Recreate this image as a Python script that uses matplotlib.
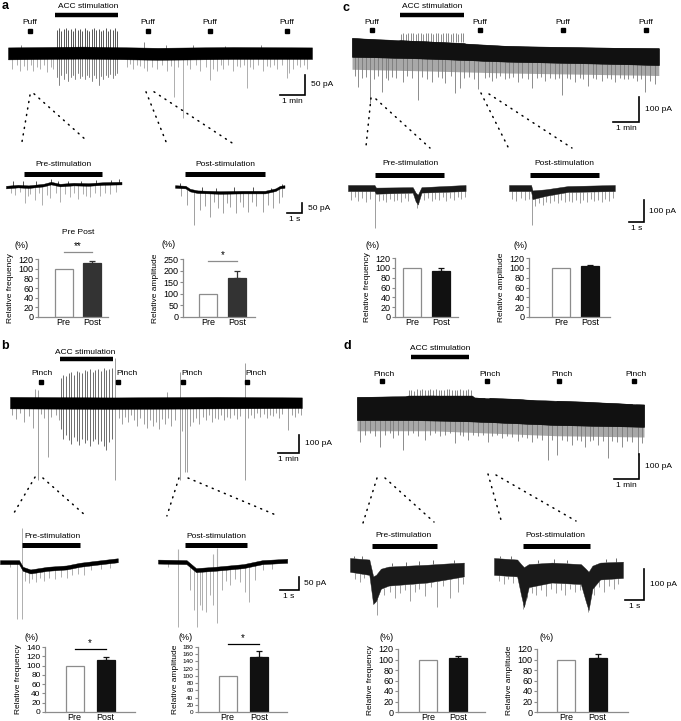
import matplotlib.pyplot as plt
import numpy as np

plt.rcParams['font.family'] = ['Liberation Sans', 'DejaVu Sans']

W, H = 681, 721

# ---------------- bar chart values (% of pre) ----------------
PRE_VALUE = 100
FREQ_POST = {'a': 111, 'b': 113, 'c': 93, 'd': 102}
FREQ_ERR = {'a': 4, 'b': 5, 'c': 6, 'd': 4}
AMP_POST = {'a': 170, 'b': 152, 'c': 104, 'd': 102}
AMP_ERR = {'a': 30, 'b': 16, 'c': 2, 'd': 9}

# ---------------- panel a: long trace (min, pA) ----------------
A_BAND_T = [0.0, 3.0, 6.0, 9.0, 12.16]
A_BAND_HI = [14, 16, 13, 15, 14]
A_BAND_LO = [-16, -14, -17, -15, -15]
A_DOWN = [(0.15, -40), (0.35, -30), (0.48, -45), (0.62, -32), (0.75, -42), (0.9, -30),
          (1.01, -45), (1.15, -35), (1.28, -40), (1.42, -30), (1.55, -48), (1.7, -35),
          (1.81, -40), (4.75, -35), (4.88, -28), (5.01, -40), (5.15, -30), (5.28, -32),
          (5.45, -38), (5.55, -45), (5.75, -35), (5.95, -40), (6.15, -30), (6.35, -45),
          (6.5, -32), (6.64, -110), (6.8, -35), (6.99, -162), (7.15, -30), (7.28, -40),
          (7.5, -30), (7.68, -45), (7.9, -35), (8.08, -67), (8.2, -40), (8.35, -45),
          (8.5, -30), (8.61, -40), (8.8, -30), (9.01, -45), (9.15, -32), (9.28, -35),
          (9.42, -30), (9.55, -88), (9.68, -35), (9.81, -40), (10.0, -30), (10.21, -45),
          (10.35, -32), (10.48, -35), (10.62, -30), (10.75, -40), (10.95, -30), (11.15, -62),
          (11.25, -50), (11.41, -40), (11.55, -30), (11.68, -35), (11.82, -30), (11.95, -40)]
A_UP = [(5.45, 28), (8.7, 18), (0.5, 20), (2.6, 22), (6.3, 20), (7.4, 19), (10.1, 20)]
A_STIM_T = [1.94, 2.03, 2.12, 2.22, 2.31, 2.40, 2.50, 2.59, 2.68, 2.78, 2.87, 2.96, 3.06, 3.15,
            3.24, 3.34, 3.43, 3.52, 3.62, 3.71, 3.80, 3.90, 3.99, 4.08, 4.18, 4.27, 4.36]
A_STIM_HI = [58, 62, 55, 60, 62, 57, 60, 55, 62, 58, 60, 56, 62, 58, 55, 60, 62, 57, 60, 55,
             58, 62, 56, 60, 58, 62, 55]
A_STIM_LO = [-60, -80, -55, -65, -50, -70, -60, -55, -65, -50, -62, -58, -65, -55, -60, -70,
             -55, -62, -80, -58, -65, -55, -60, -52, -62, -55, -50]
A_PUFF_T = [0.88, 5.6, 8.08, 11.16]
A_ACC = (1.88, 4.4)

# panel a: zoomed traces (s, pA)
A_PRE_BASE_T = [0, 0.8, 1.5, 2.5, 3.0, 3.6, 4.5, 5.5, 6.5, 7.7]
A_PRE_BASE = [-10, -5, -8, 0, 10, 0, 5, 3, 8, 10]
A_PRE_SPIKES = [(0.3, -40), (0.6, -50), (0.9, -35), (1.27, -90), (1.45, -55), (1.6, -45),
                (1.93, -75), (2.2, -40), (2.4, -100), (2.7, -50), (2.93, -65), (3.3, -40),
                (3.6, -85), (3.9, -45), (4.27, -60), (4.5, -40), (4.8, -70), (5.1, -45),
                (5.35, -55), (5.6, -60), (5.9, -40), (6.27, -55), (6.6, -40), (6.93, -45),
                (7.3, -35)]
A_PRE_UP = [(0.45, 20), (1.1, 18), (2.0, 22), (3.0, 28), (3.45, 22), (4.1, 20), (5.0, 22),
            (6.0, 24), (7.0, 26), (7.5, 28)]
A_POST_BASE_T = [0, 0.7, 1.0, 1.5, 3.0, 4.5, 6.0, 6.7, 7.0, 7.3]
A_POST_BASE = [8, 5, -10, -18, -22, -20, -20, -8, 5, 8]
A_POST_SPIKES = [(0.4, -40), (0.8, -85), (1.27, -185), (1.67, -110), (2.0, -90), (2.33, -145),
                 (2.6, -70), (2.87, -100), (3.2, -125), (3.45, -75), (3.67, -95), (4.07, -125),
                 (4.3, -70), (4.53, -95), (4.87, -120), (5.1, -70), (5.4, -90), (5.87, -120),
                 (6.2, -85), (6.53, -100), (6.93, -75), (7.15, -45)]
A_POST_UP = [(0.3, 25), (1.8, 5), (2.7, 2), (3.9, 4), (5.2, 3), (6.4, 2), (7.1, 22)]

# ---------------- panel b ----------------
B_BAND_T = [0.0, 5.0, 10.0, 14.1]
B_BAND_HI = [28, 25, 28, 25]
B_BAND_LO = [-35, -38, -35, -33]
B_DOWN = [(0.1, -70), (0.3, -95), (0.5, -60), (0.7, -110), (0.9, -75), (1.1, -140),
          (1.35, -426), (1.5, -65), (1.65, -90), (1.82, -300), (2.0, -80), (2.2, -70),
          (2.35, -100), (5.07, -426), (5.25, -90), (5.4, -120), (5.55, -80), (5.7, -110),
          (5.85, -70), (6.0, -100), (6.15, -130), (6.3, -90), (6.45, -120), (6.6, -140),
          (6.75, -100), (6.9, -130), (7.05, -110), (7.2, -150), (7.35, -95), (7.5, -120),
          (7.65, -85), (7.8, -130), (7.95, -100), (8.21, -426), (8.3, -160), (8.45, -382),
          (8.55, -382), (8.7, -130), (8.85, -110), (9.0, -90), (9.15, -120), (9.3, -80),
          (9.45, -100), (9.6, -70), (9.75, -110), (9.9, -85), (10.05, -95), (10.2, -70),
          (10.35, -100), (10.5, -80), (10.65, -90), (10.8, -70), (10.95, -95), (11.1, -75),
          (11.35, -426), (11.5, -90), (11.65, -70), (11.8, -85), (11.95, -60), (12.1, -80),
          (12.25, -65), (12.4, -90), (12.55, -70), (12.7, -75), (12.85, -60), (13.0, -85),
          (13.15, -65), (13.43, -153), (13.6, -70), (13.75, -80), (13.9, -60), (14.05, -70)]
B_UP = [(1.2, 70), (1.35, 65), (5.07, 240), (7.58, 55), (8.21, 164), (11.35, 213)]
B_STIM_T = [2.45, 2.58, 2.70, 2.83, 2.96, 3.09, 3.22, 3.35, 3.48, 3.61, 3.74, 3.87, 4.00,
            4.13, 4.26, 4.39, 4.52, 4.65, 4.78, 4.91]
B_STIM_HI = [130, 150, 140, 160, 165, 150, 170, 165, 160, 175, 170, 180, 165, 175, 180, 170,
             185, 175, 180, 185]
B_STIM_LO = [-150, -200, -180, -210, -230, -190, -215, -235, -200, -225, -210, -240, -215,
             -200, -230, -215, -240, -260, -220, -200]
B_PINCH_T = [1.5, 5.22, 8.36, 11.45]
B_ACC = (2.42, 4.98)

B_PRE_BASE_T = [0, 1.0, 1.2, 1.6, 2.5, 3.5, 4.2, 5.0, 6.2]
B_PRE_BASE = [0, 0, -25, -35, -25, -20, -10, -3, 7]
B_PRE_SPIKES = [(0.5, -20), (0.89, -214), (1.16, -214), (1.3, -70), (1.5, -80), (1.7, -65),
                (1.9, -75), (2.1, -60), (2.3, -70), (2.6, -60), (2.9, -65), (3.2, -55),
                (3.5, -60), (3.8, -50), (4.1, -45), (4.4, -50), (4.8, -30), (5.3, -25),
                (5.8, -22)]
B_PRE_UP = [(1.16, 127)]
B_POST_BASE_T = [0, 1.5, 2.0, 3.0, 4.5, 5.5, 6.8]
B_POST_BASE = [2, 0, -30, -25, -15, 0, 5]
B_POST_SPIKES = [(0.5, -20), (1.05, -244), (1.68, -105), (1.89, -180), (2.05, -244),
                 (2.21, -160), (2.32, -180), (2.53, -187), (2.74, -124), (2.89, -161),
                 (3.1, -229), (3.37, -105), (3.6, -70), (3.79, -86), (4.05, -65), (4.32, -75),
                 (4.58, -112), (4.79, -150), (5.1, -67), (5.5, -30), (6.0, -25)]
B_POST_UP = [(1.05, 49), (2.89, 30), (3.1, 52)]

# ---------------- panel c ----------------
C_TOP_T = [0, 1.77, 1.85, 4.31, 4.4, 4.85, 4.92, 5.0, 6.9, 11.8]
C_TOP = [0, -11, -9, -20, -24, -26, -45, -28, -35, -41]
C_BOT_T = [0, 3, 6, 9, 11.8]
C_BOT = [-75, -82, -95, -100, -108]
C_FRINGE = [-125, -132, -140, -145, -150]
C_DOWN = [(0.1, -150), (0.24, -195), (0.4, -160), (0.55, -155), (0.69, -260), (0.85, -165),
          (1.0, -150), (1.14, -215), (1.3, -160), (1.39, -168), (1.55, -155), (1.7, -160),
          (1.97, -175), (2.1, -150), (2.3, -160), (2.55, -248), (2.7, -155), (2.9, -165),
          (3.09, -175), (3.3, -155), (3.45, -160), (3.59, -180), (3.8, -150), (3.97, -220),
          (4.15, -200), (4.3, -160), (4.5, -155), (4.7, -165), (4.85, -205), (5.1, -160),
          (5.25, -155), (5.38, -170), (5.55, -160), (5.7, -150), (5.88, -165), (6.05, -160),
          (6.2, -155), (6.38, -175), (6.55, -160), (6.75, -165), (6.92, -200), (7.1, -160),
          (7.25, -155), (7.42, -170), (7.6, -160), (7.8, -165), (7.95, -160), (8.07, -228),
          (8.25, -160), (8.4, -165), (8.58, -175), (8.75, -160), (8.9, -165), (9.08, -190),
          (9.25, -160), (9.4, -165), (9.6, -170), (9.8, -160), (9.95, -165), (10.1, -175),
          (10.3, -160), (10.45, -165), (10.6, -165), (10.8, -160), (10.95, -170), (11.1, -165),
          (11.27, -215), (11.45, -170), (11.65, -185)]
C_STIM_T = [1.88, 1.98, 2.07, 2.17, 2.26, 2.36, 2.46, 2.55, 2.65, 2.74, 2.84, 2.94, 3.03,
            3.13, 3.22, 3.32, 3.42, 3.51, 3.61, 3.70, 3.80, 3.90, 3.99, 4.09, 4.18, 4.28]
C_STIM_HI = [18, 20, 16, 21, 19, 22, 17, 20, 21, 18, 22, 19, 20, 17, 21, 22, 18, 20, 19, 21,
             16, 20, 22, 18, 21, 19]
C_PUFF_T = [0.77, 4.92, 8.12, 11.31]
C_ACC = (1.85, 4.31)

C_PRE_T = [0, 1.8, 1.9, 4.4, 4.6, 4.75, 5.0, 8.0]
C_PRE_TOP = [0, 0, -12, -10, -35, -45, -10, 0]
C_PRE_BOT = [-28, -28, -40, -35, -75, -90, -35, -28]
C_PRE_SPIKES = [(0.2, -70), (0.45, -55), (0.7, -75), (0.95, -60), (1.2, -80), (1.5, -65),
                (1.84, -198), (2.1, -75), (2.35, -70), (2.6, -80), (2.85, -65), (3.1, -75),
                (3.35, -70), (3.6, -80), (3.85, -60), (4.1, -75), (4.7, -105), (5.2, -70),
                (5.45, -60), (5.7, -75), (5.95, -65), (6.2, -70), (6.45, -55), (6.7, -75),
                (6.95, -60), (7.2, -70), (7.45, -55), (7.7, -65), (7.95, -55)]
C_POST_T = [0, 1.5, 1.6, 2.5, 4.0, 7.2]
C_POST_TOP = [0, 0, -25, -20, -5, 0]
C_POST_BOT = [-28, -28, -65, -50, -32, -28]
C_POST_SPIKES = [(0.2, -65), (0.5, -75), (0.8, -60), (1.1, -70), (1.35, -65), (1.56, -184),
                 (1.8, -95), (2.05, -85), (2.3, -90), (2.55, -80), (2.8, -85), (3.05, -75),
                 (3.3, -85), (3.55, -70), (3.8, -80), (4.05, -75), (4.3, -80), (4.55, -70),
                 (4.8, -85), (5.05, -70), (5.3, -80), (5.55, -65), (5.8, -75), (6.05, -70),
                 (6.3, -80), (6.55, -65), (6.8, -75), (7.05, -60)]

# ---------------- panel d ----------------
D_TOP_T = [0, 0.9, 0.96, 1.02, 1.9, 2.04, 4.6, 4.7, 5.1, 5.2, 5.3, 6.5, 7.5, 7.86, 7.92,
           7.98, 9.0, 11.0, 11.08, 11.15, 11.48]
D_TOP = [0, 0, -36, -2, 0, 6, 6, -2, -4, -24, -3, -8, -18, -18, -40, -15, -18, -28, -50,
         -30, -30]
D_BOT_T = [0, 3, 5, 8, 11.48]
D_BOT = [-92, -92, -99, -112, -119]
D_FRINGE = [-135, -135, -143, -155, -160]
D_DOWN = [(0.12, -179), (0.3, -150), (0.5, -145), (0.7, -155), (0.92, -199), (1.1, -150),
          (1.3, -145), (1.45, -165), (1.65, -150), (1.85, -212), (2.05, -150), (2.25, -145),
          (2.45, -155), (2.72, -170), (2.9, -150), (3.1, -145), (3.3, -155), (3.5, -150),
          (3.7, -145), (3.92, -185), (4.1, -150), (4.25, -155), (4.44, -170), (4.65, -150),
          (4.85, -155), (5.05, -150), (5.24, -179), (5.4, -155), (5.6, -150), (5.8, -165),
          (6.0, -155), (6.2, -160), (6.44, -175), (6.6, -160), (6.8, -165), (7.0, -180),
          (7.2, -165), (7.4, -170), (7.64, -252), (7.8, -170), (8.0, -232), (8.2, -170),
          (8.4, -175), (8.6, -190), (8.8, -170), (8.95, -175), (9.12, -200), (9.3, -175),
          (9.45, -170), (9.64, -190), (9.85, -175), (10.04, -244), (10.2, -175), (10.4, -180),
          (10.6, -200), (10.8, -175), (11.0, -180), (11.24, -232), (11.4, -185)]
D_STIM_T = [2.06, 2.17, 2.28, 2.39, 2.50, 2.61, 2.71, 2.82, 2.93, 3.04, 3.15, 3.26, 3.36,
            3.47, 3.58, 3.69, 3.80, 3.91, 4.01, 4.12, 4.23, 4.34, 4.45, 4.56]
D_STIM_HI = [28, 30, 26, 31, 29, 32, 27, 30, 31, 28, 32, 29, 30, 27, 31, 32, 28, 30, 29, 31,
             27, 30, 32, 28]
D_PINCH_T = [1.0, 5.2, 8.08, 11.08]
D_ACC = (2.16, 4.48)

D_PRE_T = [0, 1.0, 1.2, 1.35, 1.6, 2.0, 3.0, 4.0, 5.0, 5.9]
D_PRE_TOP = [0, -5, -60, -55, -35, -28, -25, -22, -18, -15]
D_PRE_BOT = [-45, -55, -150, -140, -100, -90, -85, -80, -70, -60]
D_PRE_SPIKES = [(0.25, -70), (0.5, -78), (0.75, -65), (1.4, -186), (1.75, -120), (2.05, -110),
                (2.33, -130), (2.6, -115), (2.85, -105), (3.1, -140), (3.35, -110), (3.6, -100),
                (3.9, -125), (4.2, -95), (4.5, -160), (4.8, -90), (5.2, -130), (5.6, -110),
                (5.85, -85)]
D_PRE_UP = [(0.2, 6), (0.6, 8), (2.2, -15), (2.9, -12), (3.6, -10), (4.3, -8), (5.4, -5)]
D_POST_T = [0, 1.2, 1.4, 1.55, 1.8, 3.0, 4.5, 4.75, 4.9, 5.1, 5.5, 6.68]
D_POST_TOP = [0, -5, -20, -30, -20, -15, -20, -35, -45, -25, -15, -12]
D_POST_BOT = [-55, -60, -120, -160, -95, -80, -85, -140, -170, -100, -70, -65]
D_POST_SPIKES = [(0.25, -75), (0.5, -85), (0.75, -70), (1.0, -80), (1.5, -166), (1.7, -130),
                 (1.95, -115), (2.2, -120), (2.45, -105), (2.7, -125), (2.95, -100), (3.2, -115),
                 (3.45, -105), (3.7, -120), (3.95, -100), (4.2, -110), (4.45, -105), (4.87, -176),
                 (5.2, -120), (5.45, -95), (5.7, -110), (5.95, -90), (6.2, -100), (6.45, -85)]
D_POST_UP = [(0.3, 8), (0.9, 6), (2.3, -5), (3.1, -3), (3.8, -6), (5.8, -2), (6.3, 0)]

GRAY = '#8e8e8e'
FS = 6

fig = plt.figure(figsize=(W / 100, H / 100), dpi=100)


def px_axes(x0, y0, x1, y1):
    return fig.add_axes([x0 / W, 1 - y1 / H, (x1 - x0) / W, (y1 - y0) / H])


def trace_axes(box, t_ref, y_ref, px_per_t, pa_per_px):
    x0, y0, x1, y1 = box
    ax = px_axes(x0, y0, x1, y1)
    ax.set_xlim((x0 - t_ref) / px_per_t, (x1 - t_ref) / px_per_t)
    ax.set_ylim((y_ref - y1) * pa_per_px, (y_ref - y0) * pa_per_px)
    ax.axis('off')
    return ax


def spikes(ax, events, base_t, base, color=GRAY, lw=0.5, z=1):
    st, sp = np.array(events, dtype=float).T
    start = np.interp(st, base_t, base)
    ax.vlines(st, sp, start, colors=color, lw=lw, zorder=z)


def hbar(ax, t0, t1, y, lw=3.2):
    ax.plot([t0, t1], [y, y], color='k', lw=lw, solid_capstyle='butt', clip_on=False)


def markers(ax, ts, y, labels, label_y, ha='center', dx=0.0):
    ax.plot(ts, [y] * len(ts), 's', color='k', ms=2.6, clip_on=False)
    for t, lab in zip(ts, labels):
        ax.text(t + dx, label_y, lab, ha=ha, va='center', fontsize=FS)


def scale_bar(ax, t_end, y0, dt, dy, t_lab, y_lab):
    ax.plot([t_end - dt, t_end, t_end], [y0, y0, y0 + dy], color='k', lw=1.2,
            solid_joinstyle='miter', clip_on=False)
    ax.annotate(y_lab, (t_end, y0 + dy / 2), xytext=(4, 0), textcoords='offset points',
                ha='left', va='center', fontsize=FS, annotation_clip=False)
    ax.annotate(t_lab, (t_end - dt / 2, y0), xytext=(0, -2), textcoords='offset points',
                ha='center', va='top', fontsize=FS, annotation_clip=False)


def dots(ax, p0, p1):
    ax.plot([p0[0], p1[0]], [p0[1], p1[1]], color='k', lw=1.1,
            ls=(0, (0.7, 3.6)), dash_capstyle='round', clip_on=False)


def zoom_label(ax, text, tc, ty, bar):
    ax.text(tc, ty, text, ha='center', va='center', fontsize=FS)
    hbar(ax, bar[0], bar[1], bar[2], lw=3.6)


def dense_trace(ax, top_t, top, bot_t, bot, fringe, down, stim_t, stim_lo, stim_hi):
    ax.fill_between(bot_t, bot, fringe, color='#a8a8a8', lw=0, zorder=1)
    spikes(ax, down, bot_t, bot, color='#7a7a7a', lw=0.6)
    ax.fill_between(top_t, top, np.interp(top_t, bot_t, bot), color='#111111', lw=0.3,
                    zorder=3)
    ax.fill_between(bot_t, bot, np.interp(bot_t, top_t, top), color='#111111', lw=0.3,
                    zorder=3)
    ax.vlines(stim_t, stim_lo, stim_hi, colors='#777777', lw=0.6, zorder=2)


# ================= panel a =================
ax = trace_axes((0, 0, 340, 150), 8, 53, 25, 2.5)
ax.fill_between(A_BAND_T, A_BAND_HI, A_BAND_LO, color='k', lw=0.3, zorder=3)
spikes(ax, A_DOWN, [0, 12.16], [0, 0], color=GRAY)
spikes(ax, A_UP, [0, 12.16], [0, 0], color='#555555')
ax.vlines(A_STIM_T, A_STIM_LO, A_STIM_HI, colors='#3a3a3a', lw=0.6, zorder=2)
ax.vlines(A_STIM_T, A_STIM_LO, -15, colors=GRAY, lw=0.6, zorder=2)
markers(ax, A_PUFF_T, 55, ['Puff'] * 4, 75)
hbar(ax, A_ACC[0], A_ACC[1], 95)
ax.text(sum(A_ACC) / 2 + 0.05, 115, 'ACC stimulation', ha='center', va='center', fontsize=FS)
scale_bar(ax, 11.88, -105, 1, 50, '1 min', '50 pA')
dots(ax, (0.88, -105), (0.56, -222))
dots(ax, (1.04, -102), (3.2, -222))
dots(ax, (5.52, -97), (6.36, -228))
dots(ax, (5.84, -97), (9.04, -228))

ax = trace_axes((0, 155, 165, 235), 6, 185, 15, 5)
ax.fill_between(A_PRE_BASE_T, np.add(A_PRE_BASE, 6), np.add(A_PRE_BASE, -7), color='k',
                lw=0.3, zorder=3)
spikes(ax, A_PRE_SPIKES, A_PRE_BASE_T, A_PRE_BASE)
spikes(ax, A_PRE_UP, A_PRE_BASE_T, A_PRE_BASE, color='#333333', lw=0.6)
zoom_label(ax, 'Pre-stimulation', 3.8, 105, (1.2, 6.4, 55))

ax = trace_axes((165, 155, 340, 235), 175, 188, 15, 5)
ax.fill_between(A_POST_BASE_T, np.add(A_POST_BASE, 6), np.add(A_POST_BASE, -7), color='k',
                lw=0.3, zorder=3)
spikes(ax, A_POST_SPIKES, A_POST_BASE_T, A_POST_BASE, color='#7a7a7a')
spikes(ax, A_POST_UP, A_POST_BASE_T, A_POST_BASE, color='#333333', lw=0.6)
zoom_label(ax, 'Post-stimulation', 3.33, 120, (0.67, 6.0, 70))
scale_bar(ax, 8.47, -125, 1, 50, '1 s', '50 pA')

fig.text(78 / W, 1 - 232 / H, 'Pre Post', ha='center', va='center', fontsize=FS)

# ================= panel b =================
ax = trace_axes((0, 343, 340, 525), 10, 402, 20.7, 5.46)
ax.fill_between(B_BAND_T, B_BAND_HI, B_BAND_LO, color='k', lw=0.3, zorder=3)
ax.vlines(B_STIM_T, B_STIM_LO, B_STIM_HI, colors='#555555', lw=0.6, zorder=2)
spikes(ax, B_DOWN, [0, 14.1], [0, 0], color=GRAY, lw=0.6)
spikes(ax, B_UP, [0, 14.1], [0, 0], color=GRAY, lw=0.6)
ax.plot(B_PINCH_T, [109] * 4, 's', color='k', ms=2.6)
ax.text(B_PINCH_T[0] + 0.05, 153, 'Pinch', ha='center', va='center', fontsize=FS)
for t in B_PINCH_T[1:]:
    ax.text(t - 0.1, 153, 'Pinch', ha='left', va='center', fontsize=FS)
hbar(ax, B_ACC[0], B_ACC[1], 235)
ax.text(sum(B_ACC) / 2 - 0.05, 268, 'ACC stimulation', ha='center', va='center', fontsize=FS)
scale_bar(ax, 13.96, -278, 1, 100, '1 min', '100 pA')
dots(ax, (1.21, -410), (0.19, -606))
dots(ax, (1.59, -415), (3.67, -622))
dots(ax, (8.16, -415), (7.58, -622))
dots(ax, (8.6, -415), (12.95, -622))

ax = trace_axes((0, 527, 150, 630), 0, 562, 19, 3.75)
ax.fill_between(B_PRE_BASE_T, np.add(B_PRE_BASE, 7), np.add(B_PRE_BASE, -8), color='k',
                lw=0.3, zorder=3)
spikes(ax, B_PRE_SPIKES, B_PRE_BASE_T, B_PRE_BASE)
spikes(ax, B_PRE_UP, B_PRE_BASE_T, B_PRE_BASE)
zoom_label(ax, 'Pre-stimulation', 2.76, 97, (1.16, 4.21, 64))

ax = trace_axes((150, 527, 340, 630), 158, 562, 19, 3.75)
ax.fill_between(B_POST_BASE_T, np.add(B_POST_BASE, 7), np.add(B_POST_BASE, -8), color='k',
                lw=0.3, zorder=3)
spikes(ax, B_POST_SPIKES, B_POST_BASE_T, B_POST_BASE)
spikes(ax, B_POST_UP, B_POST_BASE_T, B_POST_BASE, color='#b0b0b0', lw=0.8)
zoom_label(ax, 'Post-stimulation', 3.05, 97, (1.42, 4.68, 64))
scale_bar(ax, 7.4, -105, 1, 50, '1 s', '50 pA')

# ================= panel c =================
ax = trace_axes((340, 0, 681, 150), 352, 38, 26, 4)
dense_trace(ax, C_TOP_T, C_TOP, C_BOT_T, C_BOT, C_FRINGE, C_DOWN, C_STIM_T, -15, C_STIM_HI)
markers(ax, C_PUFF_T, 32, ['Puff'] * 4, 60)
hbar(ax, C_ACC[0], C_ACC[1], 92)
ax.text(sum(C_ACC) / 2, 124, 'ACC stimulation', ha='center', va='center', fontsize=FS)
scale_bar(ax, 11.04, -336, 1, 100, '1 min', '100 pA')
dots(ax, (0.73, -240), (0.54, -432))
dots(ax, (0.92, -244), (3.0, -440))
dots(ax, (4.96, -220), (6.0, -436))
dots(ax, (5.27, -224), (8.46, -440))

ax = trace_axes((340, 155, 500, 235), 348, 185, 14.7, 4.6)
spikes(ax, C_PRE_SPIKES, C_PRE_T, C_PRE_BOT, color=GRAY, lw=0.6)
ax.fill_between(C_PRE_T, C_PRE_TOP, C_PRE_BOT, color='#1a1a1a', lw=0.3, zorder=3)
zoom_label(ax, 'Pre-stimulation', 4.22, 97, (1.84, 6.53, 46))

ax = trace_axes((500, 155, 681, 235), 509, 185, 14.7, 4.6)
spikes(ax, C_POST_SPIKES, C_POST_T, C_POST_BOT, color=GRAY, lw=0.6)
ax.fill_between(C_POST_T, C_POST_TOP, C_POST_BOT, color='#1a1a1a', lw=0.3, zorder=3)
zoom_label(ax, 'Post-stimulation', 3.74, 97, (1.43, 6.12, 46))
scale_bar(ax, 9.16, -170, 1, 100, '1 s', '100 pA')

# ================= panel d =================
ax = trace_axes((340, 343, 681, 525), 357, 397, 25, 4)
dense_trace(ax, D_TOP_T, D_TOP, D_BOT_T, D_BOT, D_FRINGE, D_DOWN, D_STIM_T, 0, D_STIM_HI)
ax.plot(D_PINCH_T, [64] * 4, 's', color='k', ms=2.6)
for t in D_PINCH_T:
    ax.text(t + 0.1, 92, 'Pinch', ha='center', va='center', fontsize=FS)
hbar(ax, D_ACC[0], D_ACC[1], 160)
ax.text(sum(D_ACC) / 2, 192, 'ACC stimulation', ha='center', va='center', fontsize=FS)
scale_bar(ax, 11.28, -328, 1, 100, '1 min', '100 pA')
dots(ax, (0.8, -324), (0.24, -504))
dots(ax, (1.12, -324), (3.08, -500))
dots(ax, (5.24, -308), (5.76, -492))
dots(ax, (5.56, -312), (8.76, -496))

ax = trace_axes((340, 527, 480, 630), 350, 558, 19.3, 3.26)
spikes(ax, D_PRE_SPIKES, D_PRE_T, D_PRE_BOT, color=GRAY, lw=0.6)
spikes(ax, D_PRE_UP, D_PRE_T, D_PRE_TOP, color='#555555', lw=0.6)
ax.fill_between(D_PRE_T, D_PRE_TOP, D_PRE_BOT, color='#1a1a1a', lw=0.3, zorder=3)
zoom_label(ax, 'Pre-stimulation', 2.75, 72, (1.14, 4.51, 39))

ax = trace_axes((480, 527, 681, 630), 494, 558, 19.3, 3.26)
spikes(ax, D_POST_SPIKES, D_POST_T, D_POST_BOT, color=GRAY, lw=0.6)
spikes(ax, D_POST_UP, D_POST_T, D_POST_TOP, color='#555555', lw=0.6)
ax.fill_between(D_POST_T, D_POST_TOP, D_POST_BOT, color='#1a1a1a', lw=0.3, zorder=3)
zoom_label(ax, 'Post-stimulation', 3.16, 72, (1.5, 4.97, 39))
scale_bar(ax, 7.77, -137, 1, 100, '1 s', '100 pA')


# ================= bar charts =================
def bar_chart(box, ymax, step, post, err, ylabel, post_color, pct_off, sig=None, tick_fs=6.5):
    spine, top, right, bottom, pre_c, post_c = box
    ax = px_axes(spine, top, right, bottom)
    unit = post_c - pre_c
    ax.set_xlim(-(pre_c - spine) / unit, 1 + (right - post_c) / unit)
    ax.set_ylim(0, ymax)
    ax.bar([0, 1], [PRE_VALUE, post], width=18 / unit, color=['white', post_color],
           edgecolor=['#8c8c8c', post_color], linewidth=0.9, zorder=2)
    ax.errorbar([1], [post], yerr=[[0], [err]], fmt='none', ecolor=post_color,
                elinewidth=0.9, capsize=2.2, capthick=0.9, zorder=3)
    for s in ('top', 'right'):
        ax.spines[s].set_visible(False)
    for s in ('left', 'bottom'):
        ax.spines[s].set_color('#8c8c8c')
        ax.spines[s].set_linewidth(0.9)
    ax.set_yticks(np.arange(0, ymax + 1, step))
    ax.set_xticks([0, 1], ['Pre', 'Post'])
    ax.tick_params(axis='y', length=2, width=0.8, color='#8c8c8c', pad=1.2, labelsize=tick_fs)
    ax.tick_params(axis='x', length=0, pad=0.8, labelsize=6.5)
    ax.set_ylabel(ylabel, fontsize=6, labelpad=3)
    ax.patch.set_visible(False)
    ax.annotate('(%)', (0, 1), xycoords='axes fraction',
                xytext=(pct_off[0] * 0.72, pct_off[1] * 0.72), textcoords='offset points',
                ha='center', va='center', fontsize=6.5)
    if sig is not None:
        level, text, color = sig
        ax.plot([0, 1], [level, level], color=color, lw=0.9, clip_on=False)
        ax.annotate(text, (0.5, level), xytext=(0, 0.5), textcoords='offset points',
                    ha='center', va='bottom', fontsize=7, annotation_clip=False)
    return ax


bar_chart((38, 259, 108, 317, 63.5, 92), 120, 20, FREQ_POST['a'], FREQ_ERR['a'],
          'Relative frequency', '#333333', (-16, 14), (134.5, '**', '#8c8c8c'))
bar_chart((183, 259, 255, 317, 208.5, 237), 250, 50, AMP_POST['a'], AMP_ERR['a'],
          'Relative amplitude', '#333333', (-14, 15), (241, '*', '#8c8c8c'))
bar_chart((45, 647, 135, 712, 74.5, 105.5), 140, 20, FREQ_POST['b'], FREQ_ERR['b'],
          'Relative frequency', '#111111', (-13, 10), (136, '*', 'k'), tick_fs=6)
bar_chart((198, 647, 287, 712, 227.5, 259), 180, 20, AMP_POST['b'], AMP_ERR['b'],
          'Relative amplitude', '#111111', (-12, 10), (188, '*', 'k'), tick_fs=4.6)
bar_chart((395, 258, 458, 317, 412.5, 441.5), 120, 20, FREQ_POST['c'], FREQ_ERR['c'],
          'Relative frequency', '#111111', (-22, 13))
bar_chart((529, 258, 610, 317, 561, 590), 120, 20, AMP_POST['c'], AMP_ERR['c'],
          'Relative amplitude', '#111111', (-8, 13))
bar_chart((398, 649, 485, 712, 428, 458), 120, 20, FREQ_POST['d'], FREQ_ERR['d'],
          'Relative frequency', '#111111', (-11, 12))
bar_chart((537, 649, 628, 712, 566, 597.5), 120, 20, AMP_POST['d'], AMP_ERR['d'],
          'Relative amplitude', '#111111', (10, 12))

# panel letters
for letter, (x, y) in {'a': (5, 6), 'b': (5, 346), 'c': (346, 8), 'd': (347, 346)}.items():
    fig.text(x / W, 1 - y / H, letter, fontsize=9, fontweight='bold', ha='center', va='center')

fig.savefig('out.png', dpi=100)
